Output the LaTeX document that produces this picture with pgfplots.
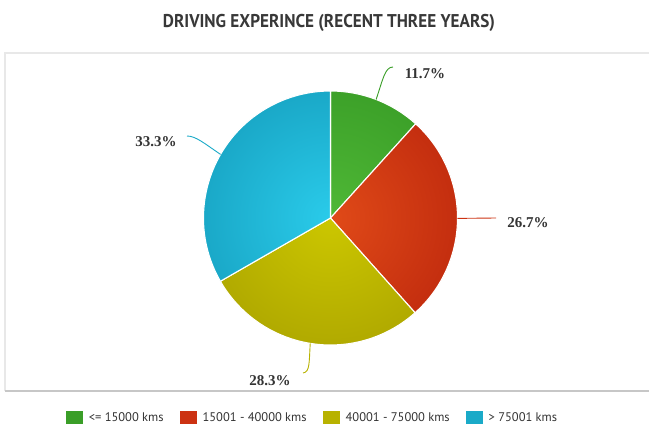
\documentclass[border=0pt]{standalone}
\usepackage{pgfplots}
\pgfplotsset{compat=1.18}
\usepackage{pgfplotstable}
\usepackage{graphicx}
\usepackage{fontspec}
\setmainfont{Liberation Serif}
\newfontfamily\sansf{PT Sans}

\definecolor{gIn}{HTML}{4FB836}
\definecolor{gOut}{HTML}{2A8A1C}
\definecolor{rIn}{HTML}{E04A18}
\definecolor{rOut}{HTML}{A81206}
\definecolor{yIn}{HTML}{CCC700}
\definecolor{yOut}{HTML}{968D00}
\definecolor{bIn}{HTML}{2ACBEA}
\definecolor{bOut}{HTML}{0A86A6}
\definecolor{gMid}{HTML}{3A9E28}
\definecolor{rMid}{HTML}{CC3212}
\definecolor{yMid}{HTML}{B8B200}
\definecolor{bMid}{HTML}{1AAAC8}
\definecolor{txt}{HTML}{333333}

% share of each class, in percent
\pgfplotstableread{
id pct
0 11.7
1 26.7
2 28.3
3 33.3
}\piedata

\newcommand\pieslice[4]{%
  \begin{scope}
    \clip (axis cs:330.5,211) -- ++(#1:127pt) arc[start angle=#1,end angle=#2,radius=127pt] -- cycle;
    \shade[overlay,inner color=#3,outer color=#4] (axis cs:330.5,211) circle[radius=254pt];
  \end{scope}
  \draw[white,line width=1.1pt,line join=round] (axis cs:330.5,211) -- ++(#1:127pt) arc[start angle=#1,end angle=#2,radius=127pt] -- cycle;
}

\begin{document}
\begin{tikzpicture}
\pgfplotstablegetelem{0}{pct}\of\piedata \let\pA\pgfplotsretval
\pgfplotstablegetelem{1}{pct}\of\piedata \let\pB\pgfplotsretval
\pgfplotstablegetelem{2}{pct}\of\piedata \let\pC\pgfplotsretval
\pgfplotstablegetelem{3}{pct}\of\piedata \let\pD\pgfplotsretval
\pgfmathsetmacro\aA{90}
\pgfmathsetmacro\aB{\aA-3.6*\pA}
\pgfmathsetmacro\aC{\aB-3.6*\pB}
\pgfmathsetmacro\aD{\aC-3.6*\pC}
\pgfmathsetmacro\aE{\aD-3.6*\pD}
\pgfmathsetmacro\mA{(\aA+\aB)/2}
\pgfmathsetmacro\mB{(\aB+\aC)/2}
\pgfmathsetmacro\mC{(\aC+\aD)/2}
\pgfmathsetmacro\mD{(\aD+\aE)/2}
\begin{axis}[
  scale only axis, width=649pt, height=429pt,
  xmin=0, xmax=649, ymin=0, ymax=429,
  hide axis, clip=false,
  legend image code/.code={\fill[#1,draw=none] (0pt,-6pt) rectangle (17pt,7pt);},
  legend columns=4,
  legend style={draw=none, fill=none, at={(axis cs:312.5,11)}, anchor=center,
    font=\sansf\fontsize{12.5}{14}\selectfont\color{txt},
    /tikz/every odd column/.append style={column sep=4pt},
    /tikz/every even column/.append style={column sep=14pt},
    inner sep=0pt},
]
\addlegendimage{fill=gMid}
\addlegendentry{<= 15000 kms}
\addlegendimage{fill=rMid}
\addlegendentry{15001 - 40000 kms}
\addlegendimage{fill=yMid}
\addlegendentry{40001 - 75000 kms}
\addlegendimage{fill=bMid}
\addlegendentry{> 75001 kms}

\pgfplotsextra{
  % frame
  \draw[line width=1.6pt, color=black!9] (axis cs:5,38) -- (axis cs:5,376) -- (axis cs:649,376);
  \draw[line width=2pt, color=black!22] (axis cs:5,38) -- (axis cs:649,38);
  % slices
  \pieslice{\aA}{\aB}{gIn}{gOut}
  \pieslice{\aB}{\aC}{rIn}{rOut}
  \pieslice{\aC}{\aD}{yIn}{yOut}
  \pieslice{\aD}{\aE}{bIn}{bOut}
  % leaders
  \draw[gMid, line width=0.9pt] (axis cs:330.5,211) ++(\mA:127pt) .. controls (axis cs:383,350) and (axis cs:385,362) .. (axis cs:393,362);
  \draw[rMid, line width=0.9pt] (axis cs:330.5,211) ++(\mB:127pt) -- (axis cs:496,211);
  \draw[yMid, line width=0.9pt] (axis cs:330.5,211) ++(\mC:127pt) .. controls (axis cs:309,66) and (axis cs:310,57) .. (axis cs:303,56);
  \draw[bMid, line width=0.9pt] (axis cs:330.5,211) ++(\mD:127pt) .. controls (axis cs:205,285) and (axis cs:196,293) .. (axis cs:187,293);
  % labels
  \node[anchor=base, text=txt, font=\fontsize{15}{17}\selectfont\bfseries] at (axis cs:425,350) {11.7\%};
  \node[anchor=base, text=txt, font=\fontsize{15}{17}\selectfont\bfseries] at (axis cs:528,201) {26.7\%};
  \node[anchor=base, text=txt, font=\fontsize{15}{17}\selectfont\bfseries] at (axis cs:270,43) {28.3\%};
  \node[anchor=base, text=txt, font=\fontsize{15}{17}\selectfont\bfseries] at (axis cs:156,282) {33.3\%};
  % title
  \node[anchor=base, text=black!78, inner sep=0pt] at (axis cs:329,401)
    {\resizebox{332pt}{\height}{\sansf\bfseries\fontsize{18.5}{20}\selectfont DRIVING EXPERINCE (RECENT THREE YEARS)}};
}
\end{axis}
\pgfresetboundingbox
\path (0,0) rectangle (649pt,429pt);
\end{tikzpicture}
\end{document}
